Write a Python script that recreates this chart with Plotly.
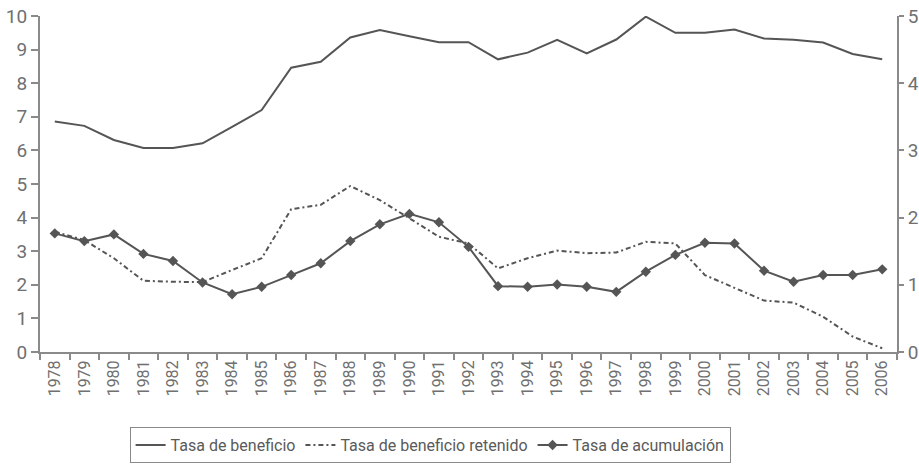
import plotly.graph_objects as go

years = [str(y) for y in range(1978, 2007)]

tasa_beneficio = [6.86, 6.73, 6.31, 6.07, 6.07, 6.21, 6.70, 7.20, 8.46, 8.64, 9.36, 9.58, 9.40, 9.22,
                  9.22, 8.71, 8.91, 9.29, 8.89, 9.30, 9.98, 9.50, 9.50, 9.60, 9.33, 9.29, 9.21, 8.87, 8.71]

tasa_retenido = [3.58, 3.33, 2.79, 2.12, 2.09, 2.08, 2.44, 2.79, 4.25, 4.38, 4.94, 4.52, 3.98, 3.43,
                 3.23, 2.49, 2.79, 3.02, 2.94, 2.96, 3.28, 3.23, 2.29, 1.90, 1.53, 1.47, 1.05, 0.46, 0.11]

tasa_acumulacion = [3.53, 3.30, 3.50, 2.92, 2.71, 2.07, 1.72, 1.94, 2.29, 2.64, 3.30, 3.80, 4.11, 3.86,
                    3.13, 1.96, 1.94, 2.01, 1.94, 1.79, 2.39, 2.89, 3.25, 3.23, 2.42, 2.09, 2.29, 2.29, 2.46]

left_ticks = list(range(0, 11))
right_ticks = list(range(0, 6))

LINE = "#555555"
AX = "#8a8a8a"
FONT = "Liberation Sans Narrow, Roboto, sans-serif"

fig = go.Figure()
fig.add_trace(go.Scatter(x=years, y=tasa_beneficio, mode="lines", name="Tasa de beneficio",
                         line=dict(color=LINE, width=2)))
fig.add_trace(go.Scatter(x=years, y=tasa_retenido, mode="lines", name="Tasa de beneficio retenido",
                         line=dict(color=LINE, width=2, dash="5px,3px,2px,3px")))
fig.add_trace(go.Scatter(x=years, y=tasa_acumulacion, mode="lines+markers", name="Tasa de acumulación",
                         line=dict(color=LINE, width=2),
                         marker=dict(symbol="diamond", size=8, color=LINE)))
# helper trace so the right-hand axis (same data on half scale) is drawn; fully transparent
fig.add_trace(go.Scatter(x=years, y=[v / 2 for v in tasa_beneficio], mode="lines", yaxis="y2",
                         line=dict(color="rgba(0,0,0,0)", width=0), showlegend=False, hoverinfo="skip"))

fig.update_layout(
    width=919, height=466,
    margin=dict(l=40, r=22, t=16, b=114, autoexpand=False),
    plot_bgcolor="white", paper_bgcolor="white",
    font=dict(family=FONT, size=16, color="#707070"),
    showlegend=True,
    legend=dict(orientation="h", xref="container", yref="container", x=0.468, xanchor="center",
                y=0.045, yanchor="middle",
                bordercolor="#8a8a8a", borderwidth=1, font=dict(size=16, color="#5a5a5a"),
                itemwidth=30, tracegroupgap=0),
    xaxis=dict(type="category", categoryorder="array", categoryarray=years, automargin=False,
               range=[-0.5, len(years) - 0.5],
               tickangle=-90, showgrid=False, showline=True, linecolor=AX, linewidth=2,
               ticks="outside", ticklen=6, tickcolor=AX, tickwidth=1.5, tickson="boundaries",
               tickfont=dict(size=16), zeroline=False),
    yaxis=dict(range=[0, 10], tickvals=left_ticks, showgrid=False, showline=True, automargin=False,
               linecolor=AX, linewidth=2, ticks="outside", ticklen=7, tickcolor=AX, tickwidth=1.5,
               zeroline=False, tickfont=dict(size=19), ticklabeloverflow="allow"),
    yaxis2=dict(range=[0, 5], tickvals=right_ticks, overlaying="y", side="right", showgrid=False,
                automargin=False, showline=True, linecolor=AX, linewidth=2, ticks="outside",
                ticklen=5, tickcolor=AX, tickwidth=1.5, zeroline=False, tickfont=dict(size=19),
                ticklabeloverflow="allow"),
)

fig.write_html("out.html", post_script="document.body.style.margin='0px';",
               config={"displayModeBar": False})
